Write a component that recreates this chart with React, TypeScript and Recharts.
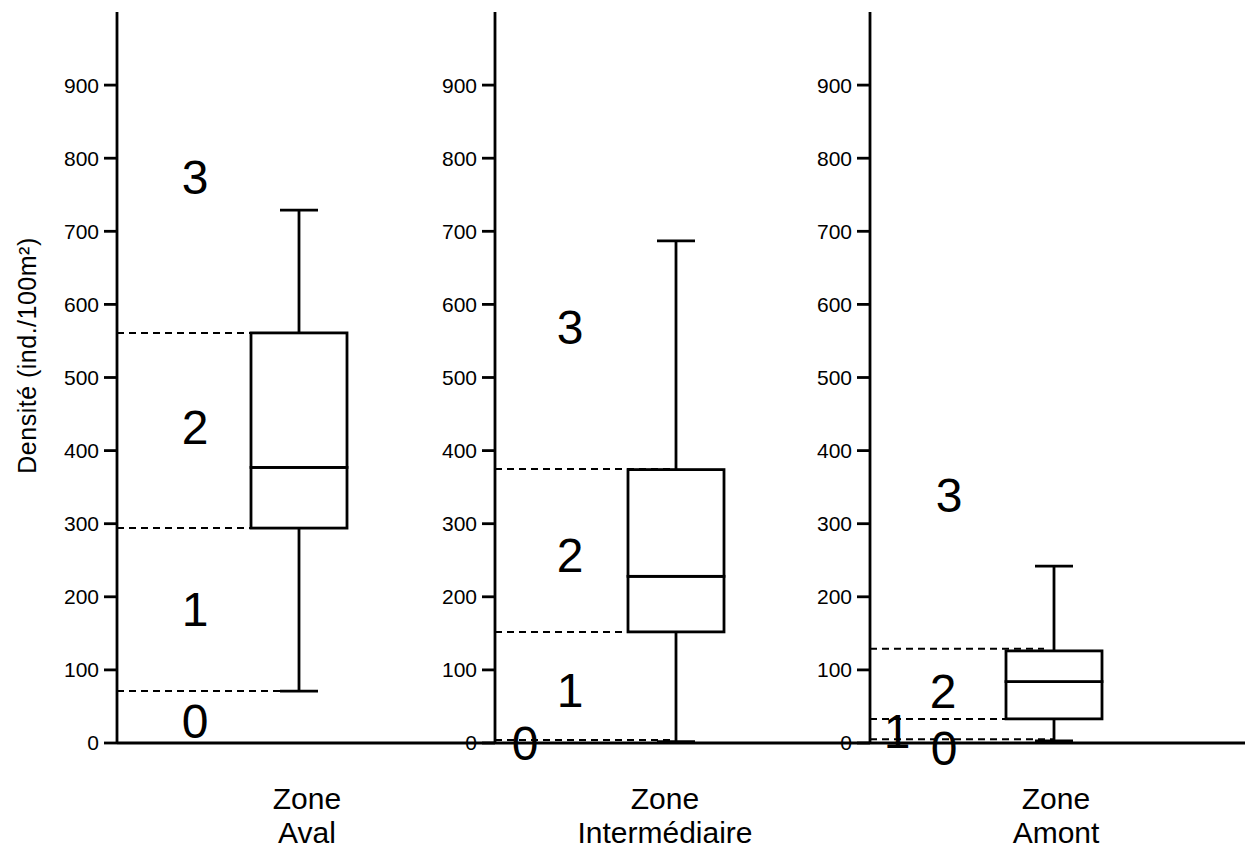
import React from "react"
import {
  ComposedChart,
  Bar,
  XAxis,
  YAxis,
  ReferenceLine,
  ReferenceDot,
} from "recharts"

// valeurs (ind./100m²)
const zones = ["Aval", "Intermédiaire", "Amont"]
const whiskerLow = [71, 2, 3]
const q1 = [294, 152, 33]
const median = [377, 228, 84]
const q3 = [561, 374, 126]
const whiskerHigh = [729, 687, 242]

// seuils de classes (pointillés) par zone
const thresholds = [
  [71, 294, 561],
  [4, 152, 375],
  [5, 33, 129],
]

// classes 0..3 et densité où le chiffre est placé
const classNames = ["0", "1", "2", "3"]
const classValues = [
  [29, 182, 431, 774],
  [0, 72, 257, 568],
  [-7, 16, 71, 339],
]

const yTicks = [0, 100, 200, 300, 400, 500, 600, 700, 800, 900]

// mise en page (pixels) de chaque panneau
const panels = [
  { left: 0, width: 495, padRight: 14, labelDx: 8, dashEnds: [0, -48, 20], classDx: [-104, -104, -104, -104] },
  { left: 378, width: 492, padRight: 13, labelDx: -11, dashEnds: [0, -48, 0], classDx: [-151, -106, -106, -106] },
  { left: 753, width: 492, padRight: 7, labelDx: 2, dashEnds: [0, -48, -10], classDx: [-110, -157, -111, -105] },
]

const FONT = "'Liberation Sans', Arial, sans-serif"
const AXIS_W = 117
const CAP = 38
const SW = 2.8

function WhiskerLow(props: any) {
  const { x, y, width, height } = props
  const cx = x + width / 2
  return (
    <g>
      <line x1={cx} x2={cx} y1={y} y2={y + height} stroke="#000" strokeWidth={SW} />
      <line x1={cx - CAP / 2} x2={cx + CAP / 2} y1={y + height} y2={y + height} stroke="#000" strokeWidth={SW} />
    </g>
  )
}

function WhiskerHigh(props: any) {
  const { x, y, width, height } = props
  const cx = x + width / 2
  return (
    <g>
      <line x1={cx} x2={cx} y1={y} y2={y + height} stroke="#000" strokeWidth={SW} />
      <line x1={cx - CAP / 2} x2={cx + CAP / 2} y1={y} y2={y} stroke="#000" strokeWidth={SW} />
    </g>
  )
}

function BoxPart(props: any) {
  const { x, y, width, height } = props
  return <rect x={x} y={y} width={width} height={height} fill="#fff" stroke="#000" strokeWidth={SW} />
}

function ZoneTick(props: any) {
  const { x, y, payload, dx } = props
  return (
    <text x={x + dx} y={y + 58} textAnchor="middle" fontSize={30} fontFamily={FONT} fill="#000">
      <tspan x={x + dx}>Zone</tspan>
      <tspan x={x + dx} dy={34}>{payload.value}</tspan>
    </text>
  )
}

function Panel({ i }: { i: number }) {
  const p = panels[i]
  const data = [
    {
      zone: zones[i],
      base: whiskerLow[i],
      lw: q1[i] - whiskerLow[i],
      lb: median[i] - q1[i],
      hb: q3[i] - median[i],
      hw: whiskerHigh[i] - q3[i],
    },
  ]
  return (
    <div style={{ position: "absolute", left: p.left, top: 0 }}>
      <ComposedChart width={p.width} height={850} data={data} margin={{ top: 12, right: 0, bottom: 0, left: 0 }}>
        <XAxis
          dataKey="zone"
          height={107}
          padding={{ left: 0, right: p.padRight }}
          tickLine={false}
          axisLine={{ stroke: "#000", strokeWidth: SW }}
          interval={0}
          tick={<ZoneTick dx={p.labelDx} />}
        />
        <YAxis
          type="number"
          domain={[0, 1000]}
          ticks={yTicks}
          width={AXIS_W}
          tickSize={13}
          tickMargin={5}
          axisLine={{ stroke: "#000", strokeWidth: SW }}
          tickLine={{ stroke: "#000", strokeWidth: SW }}
          tick={{ fontSize: 21, fill: "#000", fontFamily: FONT }}
          label={
            i === 0
              ? {
                  content: (lp: any) => {
                    const vb = lp.viewBox
                    const cy = vb.y + vb.height / 2 - 22
                    return (
                      <text
                        x={27}
                        y={cy}
                        transform={`rotate(-90, 27, ${cy})`}
                        textAnchor="middle"
                        dominantBaseline="central"
                        fontSize={25}
                        letterSpacing={0.5}
                        fontFamily={FONT}
                        fill="#000"
                      >
                        Densité (ind./100m²)
                      </text>
                    )
                  },
                }
              : undefined
          }
        />
        <Bar dataKey="base" stackId="box" barSize={96} fill="none" isAnimationActive={false} />
        <Bar dataKey="lw" stackId="box" barSize={96} shape={<WhiskerLow />} isAnimationActive={false} />
        <Bar dataKey="lb" stackId="box" barSize={96} shape={<BoxPart />} isAnimationActive={false} />
        <Bar dataKey="hb" stackId="box" barSize={96} shape={<BoxPart />} isAnimationActive={false} />
        <Bar dataKey="hw" stackId="box" barSize={96} shape={<WhiskerHigh />} isAnimationActive={false} />
        {thresholds[i].map((v, k) => (
          <ReferenceLine
            key={"t" + k}
            y={v}
            shape={(lp: any) => {
              const cx = lp.x1 + (lp.x2 - lp.x1 - p.padRight) / 2
              return (
                <line
                  x1={lp.x1}
                  x2={cx + p.dashEnds[k]}
                  y1={lp.y1}
                  y2={lp.y2}
                  stroke="#000"
                  strokeWidth={2}
                  strokeDasharray="7 5"
                />
              )
            }}
          />
        ))}
        {classValues[i].map((v, k) => (
          <ReferenceDot
            key={"c" + k}
            x={zones[i]}
            y={v}
            r={1}
            fill="none"
            stroke="none"
            ifOverflow="visible"
            label={{
              content: (lp: any) => {
                const vb = lp.viewBox
                return (
                  <text
                    x={vb.x + vb.width / 2 + p.classDx[k]}
                    y={vb.y + vb.height / 2}
                    textAnchor="middle"
                    dominantBaseline="central"
                    fontSize={48}
                    fontFamily={FONT}
                    fill="#000"
                  >
                    {classNames[k]}
                  </text>
                )
              },
            }}
          />
        ))}
      </ComposedChart>
    </div>
  )
}

export default function App() {
  return (
    <div style={{ position: "absolute", left: 0, top: 0, width: 1247, height: 850, background: "#fff" }}>
      <Panel i={0} />
      <Panel i={1} />
      <Panel i={2} />
    </div>
  )
}
